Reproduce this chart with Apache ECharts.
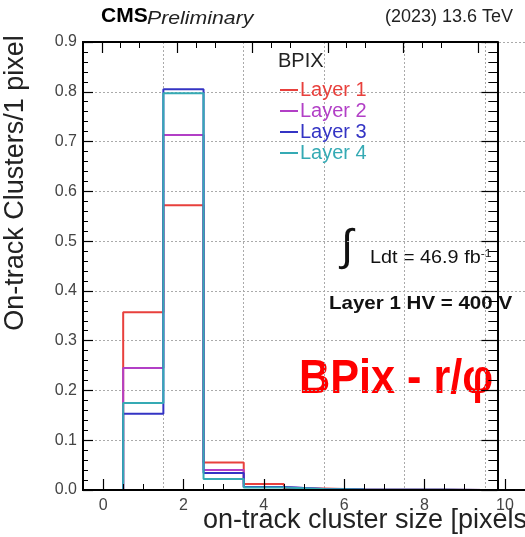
<!DOCTYPE html>
<html><head><meta charset="utf-8">
<script src="https://cdn.jsdelivr.net/npm/echarts@6/dist/echarts.min.js"></script>
<style>html,body{margin:0;padding:0;background:#fff;}
#wrap{position:relative;width:525px;height:537px;}
.layer{position:absolute;left:0;top:0;width:525px;height:537px;}
.ov{pointer-events:none;}</style>
</head><body><div id="wrap"><div class="layer" id="c"></div><div class="layer ov" id="t1"></div><div class="layer ov" id="t2"></div></div>
<script>
// bin centres (cluster size in pixels)
const binCenters = [1, 2, 3, 4, 5, 6, 7, 8, 9, 10];
const layerNames = ['Layer 1', 'Layer 2', 'Layer 3', 'Layer 4'];
const layer1 = [0.357, 0.572, 0.055, 0.012, 0.003, 0.001, 0.0005, 0.0003, 0.0002, 0.0001];
const layer2 = [0.245, 0.713, 0.040, 0.006, 0.002, 0.001, 0.0005, 0.0003, 0.0002, 0.0001];
const layer3 = [0.153, 0.805, 0.034, 0.006, 0.002, 0.001, 0.0005, 0.0003, 0.0002, 0.0001];
const layer4 = [0.175, 0.797, 0.022, 0.005, 0.002, 0.001, 0.0005, 0.0003, 0.0002, 0.0001];
const colors = ['#e8403c', '#b23fc6', '#3434c4', '#35aab4'];
const xTicks = [0, 2, 4, 6, 8, 10];

function stepPoints(vals) {
  const pts = [[binCenters[0] - 0.5, 0]];
  vals.forEach((v, i) => {
    pts.push([binCenters[i] - 0.5, v]);
    pts.push([binCenters[i] + 0.5, v]);
  });
  pts.push([binCenters[binCenters.length - 1] + 0.5, 0]);
  return pts;
}
const layers = [layer1, layer2, layer3, layer4];
const font = 'Liberation Sans, Arial, sans-serif';
const gridBox = { left: 83, top: 42, right: -10, bottom: 47 };
const clear = 'rgba(0,0,0,0)';

// main chart: data, labels, grid lines, texts
const chart = echarts.init(document.getElementById('c'));
chart.setOption({
  animation: false,
  grid: gridBox,
  legend: {
    data: layerNames.map((n, i) => ({ name: n, textStyle: { color: colors[i] } })),
    orient: 'vertical', left: 275, top: 75, itemGap: 1,
    itemWidth: 18, itemHeight: 2, icon: 'rect',
    textStyle: { fontSize: 20, fontFamily: font, padding: [0, 0, 0, -3] },
    selectedMode: false
  },
  xAxis: {
    type: 'value', min: -0.5, max: 10.5, interval: 2,
    axisLine: { show: true, onZero: false, lineStyle: { color: '#000', width: 2 } },
    axisTick: { show: false },
    axisLabel: { fontSize: 16, color: '#444', fontFamily: font, margin: 8, customValues: xTicks },
    splitLine: { show: true, lineStyle: { color: '#aaa', type: [2, 2], width: 1 }, customValues: xTicks }
  },
  yAxis: {
    type: 'value', min: 0, max: 0.9, interval: 0.1,
    axisLine: { show: true, onZero: false, lineStyle: { color: '#000', width: 2 } },
    axisTick: { show: false },
    axisLabel: { fontSize: 16, color: '#444', fontFamily: font, margin: 6, formatter: v => v.toFixed(1) },
    splitLine: { show: true, lineStyle: { color: '#aaa', type: [2, 2], width: 1 } }
  },
  series: layers.map((vals, i) => ({
    name: layerNames[i], type: 'line', data: stepPoints(vals),
    showSymbol: false, symbol: 'none',
    lineStyle: { color: colors[i], width: 2 }, itemStyle: { color: colors[i] },
    z: 2 + i
  })),
  graphic: [
    { type: 'text', left: 101, top: 6, style: { text: 'CMS', font: 'bold 21px ' + font, fill: '#000' } },
    { type: 'text', x: 147, y: 9, scaleX: 1.12, style: { text: 'Preliminary', font: 'italic 19px ' + font, fill: '#222' } },
    { type: 'text', right: 12, top: 8, style: { text: '(2023) 13.6 TeV', font: '18px ' + font, fill: '#222' } },
    { type: 'text', left: 278, top: 51, style: { text: 'BPIX', font: '20px ' + font, fill: '#222' } },
    { type: 'text', x: 16, y: 183, rotation: Math.PI / 2, style: { text: 'On-track Clusters/1 pixel', font: '27px ' + font, fill: '#222', align: 'center', verticalAlign: 'middle' } },
    { type: 'text', left: 203, top: 507, style: { text: 'on-track cluster size [pixels]', font: '27px ' + font, fill: '#222' } },
    { type: 'text', left: 341, top: 226, style: { text: '\u222B', font: '44px ' + font, fill: '#111' } },
    { type: 'text', x: 370, y: 248, scaleX: 1.1, style: {
        text: '{a|Ldt = 46.9 fb}{s|-1}', font: '18px ' + font, fill: '#111',
        rich: { a: { fontSize: 18, fontFamily: font, fill: '#111' }, s: { fontSize: 11, fontFamily: font, fill: '#111', verticalAlign: 'top', padding: [0, 0, 10, 0] } }
      } },
    { type: 'text', x: 329, y: 294, scaleX: 1.08, style: { text: 'Layer 1 HV = 400 V', font: 'bold 19px ' + font, fill: '#111' } },
    { type: 'text', x: 299, y: 356, scaleX: 0.9, style: { text: 'BPix - r/\u03C6', font: 'bold 48px ' + font, fill: '#ff0000' } }
  ]
});

// overlay 1: bottom and left axis frame with inward ticks
const t1 = echarts.init(document.getElementById('t1'));
t1.setOption({
  animation: false,
  grid: gridBox,
  xAxis: { type: 'value', min: -0.5, max: 10.5, interval: 2,
    axisLine: { show: true, onZero: false, lineStyle: { color: '#000', width: 2 } },
    axisTick: { show: true, length: -11, lineStyle: { color: '#000', width: 1.2 }, customValues: xTicks },
    minorTick: { show: true, splitNumber: 4, length: -6, lineStyle: { color: '#000', width: 1 } },
    axisLabel: { customValues: xTicks, color: clear },
    splitLine: { show: false }, minorSplitLine: { show: false } },
  yAxis: { type: 'value', min: 0, max: 0.9, interval: 0.1,
    axisLine: { show: true, onZero: false, lineStyle: { color: '#000', width: 2 } },
    axisTick: { show: true, length: -10, lineStyle: { color: '#000', width: 1.2 } },
    minorTick: { show: true, splitNumber: 5, length: -5, lineStyle: { color: '#000', width: 1 } },
    axisLabel: { color: clear },
    splitLine: { show: false }, minorSplitLine: { show: false } },
  series: [{ type: 'line', data: [] }]
});

// overlay 2: top and right axis frame with inward ticks
const t2 = echarts.init(document.getElementById('t2'));
t2.setOption({
  animation: false,
  grid: gridBox,
  xAxis: { type: 'value', min: -0.5, max: 10.5, interval: 2, position: 'top',
    axisLine: { show: true, onZero: false, lineStyle: { color: '#000', width: 2 } },
    axisTick: { show: true, length: -11, lineStyle: { color: '#000', width: 1.2 }, customValues: xTicks },
    minorTick: { show: true, splitNumber: 4, length: -6, lineStyle: { color: '#000', width: 1 } },
    axisLabel: { customValues: xTicks, color: clear },
    splitLine: { show: false }, minorSplitLine: { show: false } },
  yAxis: { type: 'value', min: 0, max: 0.9, interval: 0.1, position: 'right',
    axisLine: { show: true, onZero: false, lineStyle: { color: '#000', width: 2 } },
    axisTick: { show: true, length: -16, lineStyle: { color: '#000', width: 1.2 } },
    minorTick: { show: true, splitNumber: 5, length: -9, lineStyle: { color: '#000', width: 1 } },
    axisLabel: { color: clear },
    splitLine: { show: false }, minorSplitLine: { show: false } },
  series: [{ type: 'line', data: [] }]
});
</script></body></html>
